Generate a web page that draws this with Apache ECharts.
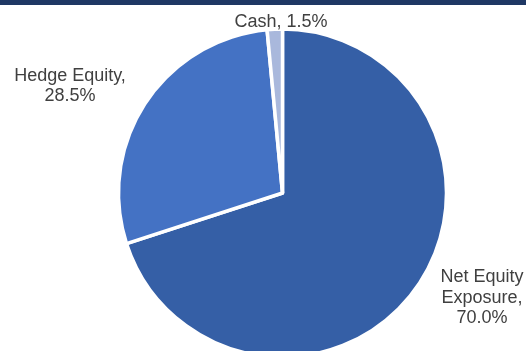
<!DOCTYPE html>
<html>
<head>
<meta charset="utf-8">
<script src="https://cdn.jsdelivr.net/npm/echarts@6/dist/echarts.min.js"></script>
<style>
  html, body { margin: 0; padding: 0; background: #fff; }
  #topbar { position: absolute; left: 0; top: 0; width: 526px; height: 5px; background: #1F3864; }
  #chart { width: 526px; height: 351px; }
</style>
</head>
<body>
<div id="chart"></div>
<div id="topbar"></div>
<script>
  // slices, clockwise from 12 o'clock
  var names = ['Net Equity Exposure', 'Hedge Equity', 'Cash'];
  var labelNames = ['Net Equity\nExposure,', 'Hedge Equity,', 'Cash,'];
  var values = [70.0, 28.5, 1.5];
  var colors = ['#355FA6', '#4472C4', '#A9B8DC'];
  // label anchor points (text centres)
  var labelPos = [[482, 298], [70, 86], [281, 22]];

  var data = [];
  for (var i = 0; i < names.length; i++) {
    data.push({
      name: names[i],
      value: values[i],
      itemStyle: { color: colors[i] },
      label: {
        formatter: labelNames[i] + (i == 2 ? ' ' : '\n') + values[i].toFixed(1) + '%'
      }
    });
  }

  var chartObj = echarts.init(document.getElementById('chart'));
  chartObj.setOption({
    animation: false,
    series: [{
      type: 'pie',
      center: [282.5, 193],
      radius: 164,
      startAngle: 90,
      clockwise: true,
      itemStyle: { borderColor: '#fff', borderWidth: 3.5 },
      label: {
        show: true,
        position: 'outside',
        color: '#404040',
        fontFamily: 'Liberation Sans, Arial',
        fontSize: 18,
        lineHeight: 20.5,
        align: 'center',
        overflow: 'none',
        width: 200
      },
      labelLine: { show: false },
      labelLayout: function (params) {
        var p = labelPos[params.dataIndex];
        return { x: p[0], y: p[1], align: 'center', verticalAlign: 'middle' };
      },
      emphasis: { disabled: true },
      data: data
    }]
  });
</script>
</body>
</html>
